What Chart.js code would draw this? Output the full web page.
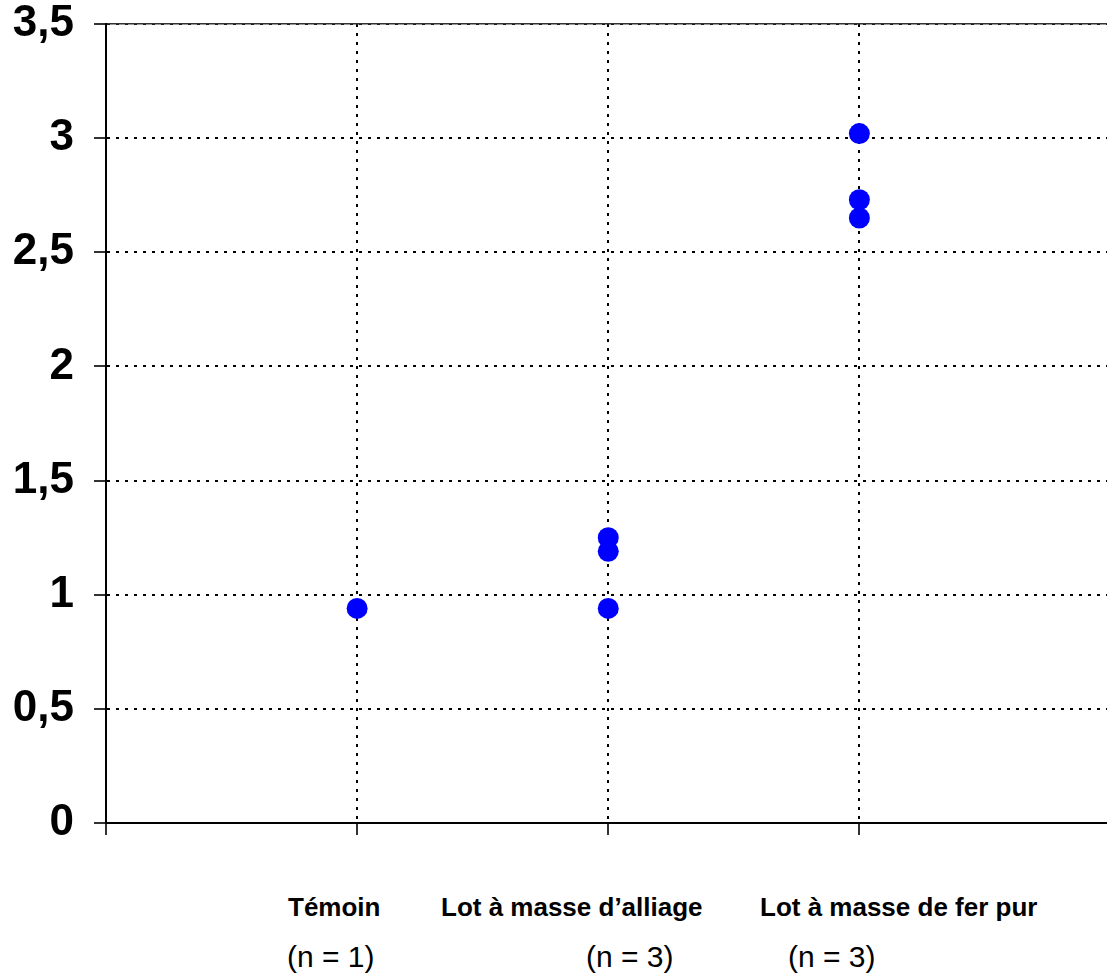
<!DOCTYPE html>
<html>
<head>
<meta charset="utf-8">
<script src="https://cdn.jsdelivr.net/npm/chart.js@4"></script>
<style>
  html, body { margin: 0; padding: 0; background: #fff; overflow: hidden; }
  #wrap { position: relative; width: 1107px; height: 977px; overflow: hidden; }
  #box { position: absolute; left: 0; top: 0; width: 1121px; height: 870px; }
  .lbl { position: absolute; white-space: nowrap; font-family: "Liberation Sans", Arial, sans-serif; color: #000; }
  .grp { font-size: 26px; line-height: 26px; font-weight: bold; top: 894px; }
  .cnt { font-size: 30px; line-height: 30px; top: 942px; }
</style>
</head>
<body>
<div id="wrap">
  <div id="box"><canvas id="chart"></canvas></div>
</div>
<script>
// categories and counts under the axis
const groups = ['Témoin', 'Lot à masse d’alliage', 'Lot à masse de fer pur'];
const groupCounts = ['(n = 1)', '(n = 3)', '(n = 3)'];

// values, one array per group
const temoinValues = [0.94];
const alliageValues = [1.25, 1.19, 0.94];
const ferPurValues = [3.02, 2.73, 2.65];

const yTicks = [0, 0.5, 1, 1.5, 2, 2.5, 3, 3.5];

// where the text sits under the chart (reference offsets, not data)
const groupLeft = [288, 441, 760];
const countLeft = [287, 586, 788];

const wrap = document.getElementById('wrap');
groups.forEach((g, i) => {
    let d = document.createElement('div');
    d.className = 'lbl grp';
    d.style.left = groupLeft[i] + 'px';
    d.textContent = g;
    wrap.appendChild(d);
    let c = document.createElement('div');
    c.className = 'lbl cnt';
    c.style.left = countLeft[i] + 'px';
    c.textContent = groupCounts[i];
    wrap.appendChild(c);
});

const seriesList = [temoinValues, alliageValues, ferPurValues];
const datasets = seriesList.map((vals, i) => ({
    label: groups[i],
    data: vals.map(v => ({ x: i + 1, y: v })),
    backgroundColor: '#0000ff',
    borderColor: '#0000ff',
    pointRadius: 10.5,
    pointHoverRadius: 10.5,
    borderWidth: 0,
}));

const dotted = [3, 6];

new Chart(document.getElementById('chart'), {
    type: 'scatter',
    data: { datasets: datasets },
    options: {
        responsive: true,
        maintainAspectRatio: false,
        animation: false,
        events: [],
        layout: { padding: 0 },
        plugins: { legend: { display: false }, tooltip: { enabled: false } },
        scales: {
            x: {
                type: 'linear',
                min: 0,
                max: 4,
                afterBuildTicks: (axis) => { axis.ticks = [0, 1, 2, 3, 4].map(v => ({ value: v })); },
                afterFit: (axis) => { axis.height = 47; axis.paddingLeft = 0; axis.paddingRight = 0; },
                ticks: { display: false },
                border: { display: true, color: '#000', width: 2, dash: dotted },
                grid: {
                    color: (ctx) => (ctx.tick && ctx.tick.value > 0 && ctx.tick.value < 4) ? '#000' : 'rgba(0,0,0,0)',
                    tickColor: (ctx) => (ctx.tick && ctx.tick.value < 4) ? '#333' : 'rgba(0,0,0,0)',
                    lineWidth: 2,
                    tickWidth: 2,
                    tickBorderDash: [],
                    tickLength: 12,
                    drawTicks: true,
                },
            },
            xTop: {
                type: 'linear',
                position: 'top',
                min: 0,
                max: 4,
                afterFit: (axis) => { axis.height = 24; axis.paddingLeft = 0; axis.paddingRight = 0; },
                ticks: { display: false },
                border: { display: true, color: '#333', width: 1.5 },
                grid: { display: false, drawTicks: false },
            },
            y: {
                min: 0,
                max: 3.5,
                afterBuildTicks: (axis) => { axis.ticks = yTicks.map(v => ({ value: v })); },
                afterFit: (axis) => { axis.width = 106; axis.paddingTop = 0; axis.paddingBottom = 0; },
                ticks: {
                    padding: 20,
                    color: '#000',
                    font: { family: '"Liberation Sans", Arial, sans-serif', size: 44, weight: 'bold' },
                    callback: (v) => String(v).replace('.', ','),
                },
                border: { display: true, color: '#000', width: 2, dash: dotted },
                grid: {
                    color: (ctx) => (ctx.tick && ctx.tick.value > 0) ? '#000' : 'rgba(0,0,0,0)',
                    tickColor: '#333',
                    lineWidth: 2,
                    tickWidth: 2,
                    tickBorderDash: [],
                    tickLength: 12,
                },
            },
        },
    },
});
</script>
</body>
</html>
